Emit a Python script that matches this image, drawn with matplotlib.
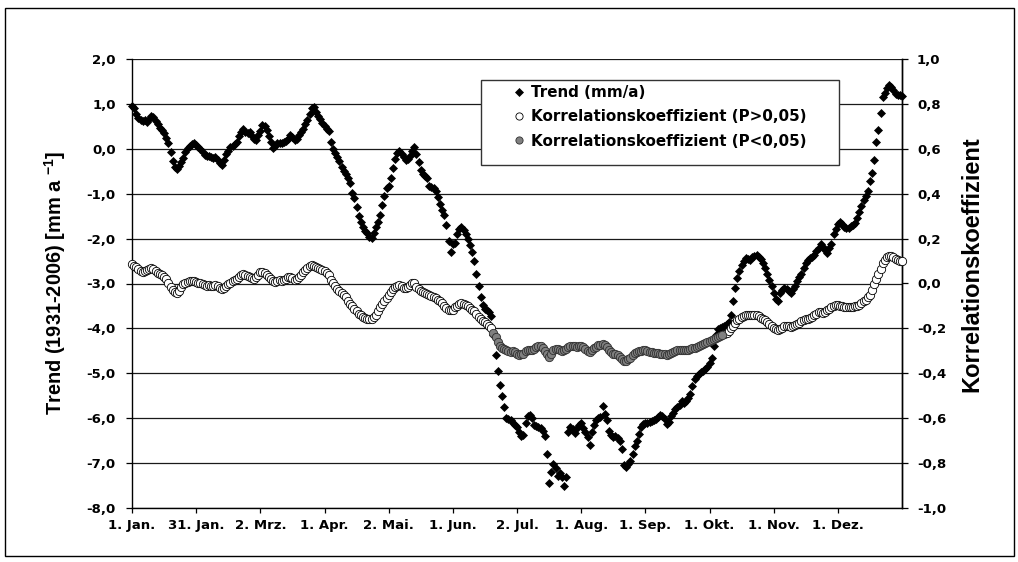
import matplotlib
matplotlib.use('Agg')
import matplotlib.pyplot as plt
import numpy as np
from matplotlib.patches import Rectangle
from matplotlib.lines import Line2D

# ---------------- data ----------------
trend = [
    0.95, 0.90, 0.78, 0.68, 0.64, 0.62, 0.64, 0.60, 0.66, 0.72,
    0.70, 0.62, 0.55, 0.47, 0.42, 0.36, 0.25, 0.12, -0.08, -0.28,
    -0.40, -0.45, -0.38, -0.30, -0.20, -0.08, 0.02, 0.06, 0.10, 0.12,
    0.08, 0.05, 0.00, -0.08, -0.14, -0.17, -0.16, -0.19, -0.20, -0.18,
    -0.26, -0.32, -0.37, -0.25, -0.12, -0.05, 0.03, 0.06, 0.10, 0.15,
    0.28, 0.38, 0.43, 0.38, 0.35, 0.38, 0.28, 0.22, 0.20, 0.30,
    0.40, 0.52, 0.50, 0.42, 0.28, 0.15, 0.02, 0.06, 0.12, 0.14,
    0.12, 0.15, 0.18, 0.22, 0.30, 0.26, 0.20, 0.22, 0.30, 0.38,
    0.45, 0.55, 0.65, 0.78, 0.90, 0.92, 0.82, 0.72, 0.66, 0.58,
    0.50, 0.44, 0.40, 0.15, 0.00, -0.10, -0.18, -0.28, -0.40, -0.50,
    -0.56, -0.66, -0.76, -0.98, -1.10, -1.30, -1.50, -1.62, -1.74, -1.82,
    -1.88, -1.96, -1.98, -1.88, -1.74, -1.62, -1.48, -1.26, -1.05, -0.88,
    -0.82, -0.66, -0.42, -0.22, -0.10, -0.06, -0.12, -0.18, -0.26, -0.22,
    -0.16, -0.06, 0.05, -0.12, -0.30, -0.48, -0.56, -0.60, -0.64, -0.82,
    -0.86, -0.88, -0.94, -1.08, -1.24, -1.36, -1.48, -1.70, -2.05, -2.30,
    -2.12, -2.10, -1.90, -1.78, -1.74, -1.80, -1.90, -2.02, -2.14, -2.30,
    -2.50, -2.78, -3.05, -3.30, -3.48, -3.56, -3.60, -3.64, -3.72, -4.15,
    -4.60, -4.95, -5.25, -5.50, -5.75, -6.00, -6.02, -6.05, -6.10, -6.15,
    -6.20, -6.30, -6.40, -6.38, -6.10, -5.95, -5.92, -6.00, -6.15, -6.18,
    -6.20, -6.22, -6.28, -6.40, -6.80, -7.45, -7.20, -7.02, -7.10, -7.28,
    -7.22, -7.30, -7.52, -7.30, -6.30, -6.20, -6.25, -6.32, -6.22, -6.15,
    -6.10, -6.22, -6.30, -6.42, -6.60, -6.30, -6.15, -6.05, -6.00, -5.98,
    -5.72, -5.90, -6.05, -6.28, -6.38, -6.42, -6.40, -6.45, -6.50, -6.68,
    -7.05, -7.08, -7.02, -6.95, -6.80, -6.62, -6.50, -6.35, -6.20, -6.12,
    -6.10, -6.10, -6.08, -6.06, -6.05, -6.02, -5.98, -5.92, -5.96, -6.02,
    -6.12, -6.08, -5.95, -5.88, -5.80, -5.76, -5.70, -5.62, -5.66, -5.62,
    -5.56, -5.45, -5.28, -5.12, -5.06, -5.02, -4.98, -4.95, -4.90, -4.85,
    -4.78, -4.65, -4.40, -4.15, -4.02, -3.98, -3.96, -3.95, -3.90, -3.85,
    -3.70, -3.40, -3.10, -2.88, -2.72, -2.58, -2.50, -2.44, -2.46, -2.48,
    -2.42, -2.38, -2.36, -2.40, -2.46, -2.55, -2.65, -2.78, -2.92, -3.05,
    -3.22, -3.35, -3.38, -3.22, -3.15, -3.10, -3.12, -3.16, -3.22, -3.12,
    -3.06, -2.95, -2.85, -2.78, -2.66, -2.55, -2.48, -2.44, -2.42, -2.37,
    -2.28, -2.20, -2.12, -2.18, -2.25, -2.33, -2.22, -2.12, -1.90, -1.78,
    -1.68, -1.64, -1.68, -1.74, -1.77, -1.76, -1.73, -1.70, -1.66, -1.55,
    -1.40, -1.28, -1.15, -1.05, -0.95, -0.72, -0.55, -0.25, 0.15, 0.42,
    0.80, 1.15, 1.25, 1.35, 1.42, 1.38, 1.30, 1.22, 1.20, 1.20, 1.18,
]

correlation = [
    0.086, 0.080, 0.074, 0.064, 0.056, 0.052, 0.056, 0.060, 0.066, 0.068,
    0.064, 0.054, 0.048, 0.042, 0.038, 0.030, 0.020, 0.004, -0.016, -0.030,
    -0.040, -0.042, -0.032, -0.016, -0.004, 0.004, 0.008, 0.010, 0.012, 0.010,
    0.008, 0.002, 0.000, -0.002, -0.008, -0.010, -0.008, -0.010, -0.010, -0.008,
    -0.012, -0.018, -0.024, -0.020, -0.012, -0.002, 0.004, 0.010, 0.016, 0.022,
    0.030, 0.040, 0.042, 0.038, 0.034, 0.030, 0.024, 0.022, 0.028, 0.040,
    0.050, 0.052, 0.046, 0.040, 0.030, 0.018, 0.010, 0.008, 0.012, 0.014,
    0.012, 0.016, 0.022, 0.030, 0.030, 0.024, 0.016, 0.020, 0.030, 0.040,
    0.052, 0.060, 0.070, 0.078, 0.084, 0.080, 0.074, 0.068, 0.064, 0.060,
    0.056, 0.048, 0.038, 0.016, 0.000, -0.012, -0.024, -0.034, -0.042, -0.052,
    -0.060, -0.076, -0.090, -0.102, -0.114, -0.124, -0.134, -0.142, -0.150, -0.154,
    -0.158, -0.160, -0.158, -0.150, -0.140, -0.124, -0.106, -0.090, -0.076, -0.064,
    -0.052, -0.036, -0.024, -0.016, -0.010, -0.006, -0.010, -0.018, -0.022, -0.016,
    -0.006, 0.004, 0.000, -0.016, -0.026, -0.032, -0.038, -0.042, -0.046, -0.052,
    -0.056, -0.062, -0.066, -0.072, -0.080, -0.088, -0.098, -0.108, -0.116, -0.120,
    -0.116, -0.106, -0.098, -0.092, -0.088, -0.092, -0.096, -0.102, -0.110, -0.116,
    -0.124, -0.136, -0.148, -0.158, -0.166, -0.172, -0.180, -0.188, -0.200, -0.220,
    -0.240, -0.262, -0.280, -0.288, -0.292, -0.296, -0.300, -0.304, -0.300, -0.306,
    -0.312, -0.318, -0.316, -0.312, -0.300, -0.294, -0.294, -0.298, -0.292, -0.284,
    -0.280, -0.280, -0.288, -0.300, -0.316, -0.326, -0.312, -0.296, -0.290, -0.292,
    -0.296, -0.300, -0.296, -0.290, -0.282, -0.278, -0.278, -0.280, -0.282, -0.278,
    -0.280, -0.282, -0.292, -0.300, -0.304, -0.296, -0.288, -0.282, -0.276, -0.272,
    -0.268, -0.276, -0.284, -0.296, -0.306, -0.312, -0.314, -0.320, -0.326, -0.336,
    -0.344, -0.344, -0.338, -0.330, -0.320, -0.310, -0.304, -0.302, -0.300, -0.298,
    -0.296, -0.300, -0.304, -0.306, -0.308, -0.308, -0.310, -0.312, -0.314, -0.316,
    -0.318, -0.316, -0.310, -0.304, -0.300, -0.296, -0.296, -0.296, -0.296, -0.294,
    -0.294, -0.292, -0.288, -0.286, -0.284, -0.280, -0.276, -0.270, -0.266, -0.262,
    -0.256, -0.250, -0.246, -0.242, -0.238, -0.234, -0.230, -0.226, -0.220, -0.210,
    -0.198, -0.188, -0.176, -0.164, -0.156, -0.150, -0.146, -0.142, -0.140, -0.140,
    -0.140, -0.140, -0.142, -0.146, -0.152, -0.158, -0.164, -0.172, -0.180, -0.190,
    -0.198, -0.202, -0.206, -0.204, -0.196, -0.190, -0.188, -0.190, -0.192, -0.188,
    -0.184, -0.180, -0.174, -0.168, -0.162, -0.158, -0.156, -0.154, -0.150, -0.142,
    -0.134, -0.128, -0.128, -0.130, -0.126, -0.120, -0.114, -0.106, -0.100, -0.096,
    -0.096, -0.098, -0.102, -0.106, -0.106, -0.106, -0.104, -0.104, -0.100, -0.098,
    -0.094, -0.088, -0.080, -0.072, -0.062, -0.050, -0.028, -0.004, 0.020, 0.044,
    0.066, 0.090, 0.106, 0.116, 0.124, 0.124, 0.120, 0.110, 0.104, 0.100, 0.098,
]

# days with significant correlation (P<0,05)
sig_first_day = 169
sig_last_day = 276

tick_days = [0, 30, 60, 90, 120, 150, 180, 210, 240, 270, 300, 330]
month_labels = ["1. Jan.", "31. Jan.", "2. Mrz.", "1. Apr.", "2. Mai.", "1. Jun.",
                "2. Jul.", "1. Aug.", "1. Sep.", "1. Okt.", "1. Nov.", "1. Dez."]
left_ticks = [2, 1, 0, -1, -2, -3, -4, -5, -6, -7, -8]
left_labels = ["2,0", "1,0", "0,0", "-1,0", "-2,0", "-3,0", "-4,0", "-5,0", "-6,0", "-7,0", "-8,0"]
right_ticks = [1.0, 0.8, 0.6, 0.4, 0.2, 0.0, -0.2, -0.4, -0.6, -0.8, -1.0]
right_labels = ["1,0", "0,8", "0,6", "0,4", "0,2", "0,0", "-0,2", "-0,4", "-0,6", "-0,8", "-1,0"]

legend_labels = ["Trend (mm/a)", "Korrelationskoeffizient (P>0,05)",
                 "Korrelationskoeffizient (P<0,05)"]
left_title = "Trend (1931-2006) [mm a $^{-1}$]"
right_title = "Korrelationskoeffizient"

# ---------------- style ----------------
plt.rcParams['font.family'] = ['DejaVu Sans']
plt.rcParams['font.weight'] = 'bold'
plt.rcParams['mathtext.fontset'] = 'custom'
plt.rcParams['mathtext.rm'] = 'Liberation Sans:bold'
plt.rcParams['mathtext.it'] = 'Liberation Sans:bold'
plt.rcParams['mathtext.bf'] = 'Liberation Sans:bold'

W, H = 1018, 562
fig = plt.figure(figsize=(W / 100, H / 100), dpi=100)
L, R, T, B = 132, 902, 59, 508
ax = fig.add_axes([L / W, 1 - B / H, (R - L) / W, (B - T) / H])
ax2 = ax.twinx()

days = np.arange(len(trend))
trend_arr = np.array(trend)
corr_arr = np.array(correlation)
sig = (days >= sig_first_day) & (days <= sig_last_day)

ax.plot(days, trend_arr, ls='none', marker='D', ms=4.2, mfc='black', mec='black',
        mew=0.5, zorder=3, clip_on=False)
ax2.plot(days[~sig], corr_arr[~sig], ls='none', marker='o', ms=6.0, mfc='white',
         mec='black', mew=0.6, zorder=3, clip_on=False)
ax2.plot(days[sig], corr_arr[sig], ls='none', marker='o', ms=6.0, mfc='#808080',
         mec='#303030', mew=0.6, zorder=3, clip_on=False)

ax.set_xlim(0, 360)
ax.set_ylim(-8, 2)
ax2.set_ylim(-1, 1)

ax.set_xticks(tick_days)
ax.set_xticklabels(month_labels)
ax.set_yticks(left_ticks)
ax.set_yticklabels(left_labels)
ax2.set_yticks(right_ticks)
ax2.set_yticklabels(right_labels)

ax.grid(axis='y', color='#1a1a1a', lw=0.9)
ax.grid(axis='x', visible=False)
ax.set_axisbelow(True)

ax.spines['top'].set_visible(False)
for s in ['top', 'left', 'bottom']:
    ax2.spines[s].set_visible(False)
for a in (ax, ax2):
    for s in a.spines.values():
        s.set_linewidth(1.0)
        s.set_color('black')

ax.tick_params(axis='y', direction='out', length=4.3, width=0.9, pad=7.5, labelsize=9.5)
ax.tick_params(axis='x', direction='out', length=3.6, width=0.9, pad=4.5, labelsize=9.5)
ax2.tick_params(axis='y', direction='out', length=4.3, width=0.9, pad=6.5, labelsize=9.5)

fig.text(55 / W, 1 - 283 / H, left_title, rotation=90, ha='center', va='center',
         family='Liberation Sans', weight='bold', fontsize=14.4)
fig.text(972 / W, 1 - 264 / H, right_title, rotation=90, ha='center', va='center',
         family='Liberation Sans', weight='bold', fontsize=17)

# legend box
bx0, bx1, by0, by1 = 481, 839, 80, 165
ax2.add_patch(Rectangle((bx0 / W, 1 - by1 / H), (bx1 - bx0) / W, (by1 - by0) / H,
                        transform=fig.transFigure, facecolor='white', edgecolor='#333333',
                        lw=1.0, zorder=4, clip_on=False))
handles = [
    Line2D([], [], ls='none', marker='D', ms=3.8, mfc='black', mec='black', mew=0.5),
    Line2D([], [], ls='none', marker='o', ms=5.2, mfc='white', mec='black', mew=0.6),
    Line2D([], [], ls='none', marker='o', ms=5.2, mfc='#808080', mec='#303030', mew=0.6),
]
leg = ax2.legend(handles, legend_labels, loc='upper left',
                 bbox_to_anchor=(511.5 / W, 1 - 85 / H), bbox_transform=fig.transFigure,
                 frameon=False, borderpad=0, borderaxespad=0, handlelength=1.0,
                 handletextpad=0.3, labelspacing=0.62,
                 prop={'family': 'DejaVu Sans', 'weight': 'bold', 'size': 10.9})
leg.set_zorder(5)

# chart area border
fig.patches.append(Rectangle((5 / W, 1 - 556 / H), (1014 - 5) / W, (556 - 8) / H,
                             transform=fig.transFigure, fill=False, edgecolor='black',
                             lw=1.0))

fig.savefig('out.png', dpi=100)
